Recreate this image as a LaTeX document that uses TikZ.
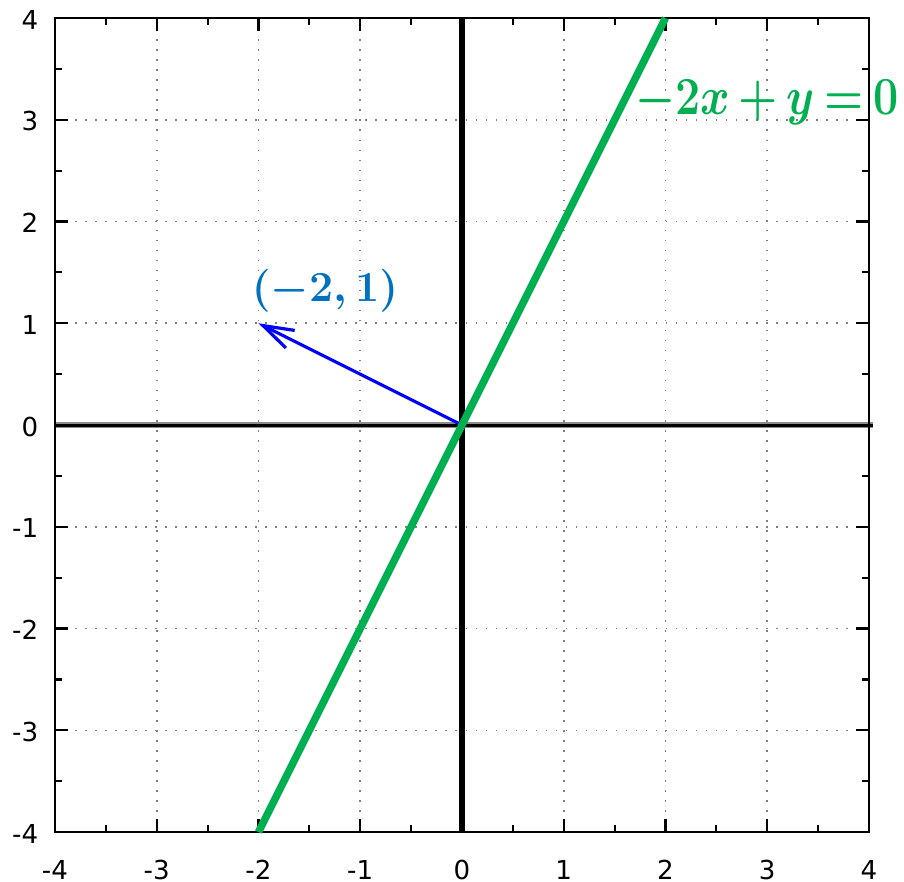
\documentclass[tikz,border=0pt]{standalone}
\usepackage{fontspec}
\newfontfamily\ticklbl{DejaVu Sans}
\usetikzlibrary{arrows.meta}
\definecolor{lnGreen}{HTML}{00B050}
\definecolor{lblBlue}{HTML}{0070C0}
\begin{document}
\begin{tikzpicture}[
  gridline/.style={black!50, line width=0.45pt, dash pattern=on 0.45pt off 2.35pt},
  frameline/.style={black, line width=0.6pt},
  ticklabel/.style={font=\ticklbl\fontsize{7.3}{8}\selectfont, inner sep=0pt},
  eqlabel/.style={text=lnGreen, inner sep=0pt, font=\fontsize{14.4}{16}\selectfont\boldmath},
  veclabel/.style={text=lblBlue, inner sep=0pt, font=\fontsize{12}{14}\selectfont\boldmath},
  vecarrow/.style={blue, line width=0.9pt, -{Straight Barb[length=8.5pt,width=5.5pt]}},
  greenline/.style={lnGreen, line width=2.1pt}
]
\useasboundingbox (-4.540,-4.484) rectangle (4.344,4.177);
% grid
\foreach \i in {-3,-2,-1,1,2,3} {
  \draw[gridline] (\i,-4) -- (\i,4);
  \draw[gridline] (-4,\i) -- (4,\i);
}
% axes
\coordinate (xL) at (-4,0);
\coordinate (xR) at (4.04,0);
\coordinate (yB) at (0,-4);
\coordinate (yT) at (0,4);
\draw[black!45, line width=1.8pt] (xL) -- (xR);
\draw[black, line width=0.85pt] (xL) -- (xR);
\draw[black, line width=1.6pt] (yB) -- (yT);
% frame and ticks
\draw[frameline] (-4,-4) rectangle (4,4);
\foreach \i in {-4,...,4} {
  \draw[frameline] (\i,-4) -- (\i,-3.87);
  \draw[frameline] (\i,4) -- (\i,3.87);
  \draw[frameline] (-4,\i) -- (-3.87,\i);
  \draw[frameline] (4,\i) -- (3.87,\i);
}
\foreach \i in {-3.5,-2.5,...,3.5} {
  \draw[frameline] (\i,-4) -- (\i,-3.935);
  \draw[frameline] (\i,4) -- (\i,3.935);
  \draw[frameline] (-4,\i) -- (-3.935,\i);
  \draw[frameline] (4,\i) -- (3.935,\i);
}
% tick labels
\foreach \i in {-4,...,4} {
  \node[ticklabel, anchor=east] (yl\i) at (-4.157,\i-0.015) {\i};
  \node[ticklabel] (xl\i) at (\i,-4.374) {\i};
}
% green line
\coordinate (gB) at (-2,-4);
\coordinate (gT) at (2,4);
% vector
\coordinate (o) at (0,0);
\coordinate (v) at (-2,1);
\draw[vecarrow] (o) -- (v);
\draw[greenline] (gB) -- (gT);
% labels
\node[eqlabel, anchor=base east] (eq) at (4.30,3.047) {\scalebox{0.87}[1.04]{$\medmuskip=3mu\thickmuskip=3.5mu -2x+y=0$}};
\node[veclabel, anchor=base] (vl) at (-1.346,1.21) {$(-2,1)$};
\end{tikzpicture}
\end{document}
